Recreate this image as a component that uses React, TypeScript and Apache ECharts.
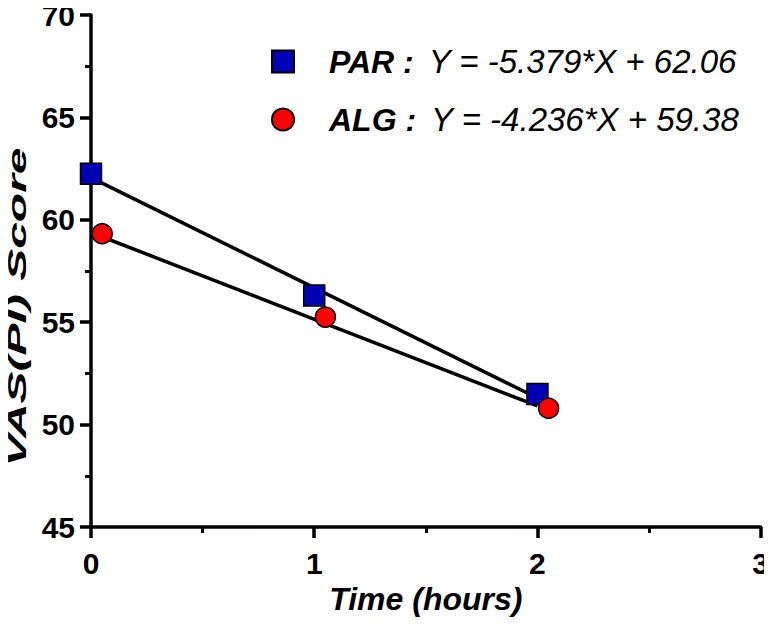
import React, { useEffect, useRef } from "react";
import * as echarts from "echarts";

const parTimes = [0, 1, 2];
const parScores = [62.25, 56.3, 51.5];
const algTimes = [0.05, 1.05, 2.05];
const algScores = [59.32, 55.25, 50.8];
const fitTimes = [0, 2];
const parFit = [62.06, 51.3];
const algFit = [59.38, 50.91];
const seriesNames = ["PAR", "ALG"];
const equations = ["Y = -5.379*X + 62.06", "Y = -4.236*X + 59.38"];
const xTicks = [0, 3, 1];
const yTicks = [45, 70, 5];

const FONT = "'Liberation Sans', Arial, sans-serif";

export default function App() {
  const ref = useRef<HTMLDivElement>(null);
  useEffect(() => {
    if (!ref.current) return;
    const chart = echarts.init(ref.current, null, { renderer: "svg" });
    const pair = (xs: number[], ys: number[]) => xs.map((x, i) => [x, ys[i]]);
    const tickLabel = {
      fontFamily: FONT,
      fontSize: 30,
      lineHeight: 24,
      fontWeight: "bold",
      color: "#000",
    };
    chart.setOption({
      animation: false,
      backgroundColor: "#ffffff",
      textStyle: { fontFamily: FONT },
      grid: { left: 91, right: 7, top: 12, bottom: 100, containLabel: false },
      legend: {
        orient: "vertical",
        left: 271,
        top: 45,
        padding: 0,
        itemWidth: 22,
        itemHeight: 22,
        itemGap: 25,
        data: seriesNames,
        formatter: (name: string) => {
          const i = seriesNames.indexOf(name);
          return `{b|${name} :}{n|${equations[i]}}`;
        },
        textStyle: {
          rich: {
            b: {
              fontFamily: FONT,
              fontSize: 32,
              fontWeight: "bold",
              fontStyle: "italic",
              color: "#000",
              padding: [0, 0, 0, 30],
              lineHeight: 36,
            },
            n: {
              fontFamily: FONT,
              fontSize: 33,
              fontStyle: "italic",
              color: "#000",
              padding: [0, 0, 0, 15],
              lineHeight: 36,
            },
          },
        },
      },
      xAxis: {
        type: "value",
        min: xTicks[0],
        max: xTicks[1],
        interval: xTicks[2],
        name: "Time (hours)",
        nameLocation: "middle",
        nameGap: 56,
        nameTextStyle: {
          fontFamily: FONT,
          fontSize: 32,
          fontWeight: "bold",
          fontStyle: "italic",
          color: "#000",
        },
        axisLine: { show: true, lineStyle: { color: "#000", width: 3.5 } },
        axisTick: { show: true, length: 11, lineStyle: { color: "#000", width: 3.5 } },
        minorTick: { show: true, splitNumber: 2, length: 6, lineStyle: { color: "#000", width: 3 } },
        splitLine: { show: false },
        axisLabel: { ...tickLabel, margin: 24 },
      },
      yAxis: {
        type: "value",
        min: yTicks[0],
        max: yTicks[1],
        interval: yTicks[2],
        axisLine: { show: true, lineStyle: { color: "#000", width: 3.5 } },
        axisTick: { show: true, length: 11, lineStyle: { color: "#000", width: 3.5 } },
        minorTick: { show: true, splitNumber: 2, length: 6, lineStyle: { color: "#000", width: 3 } },
        splitLine: { show: false },
        axisLabel: { ...tickLabel, margin: 16 },
      },
      graphic: [
        {
          type: "text",
          x: 17,
          y: 307,
          rotation: Math.PI / 2,
          scaleX: 1.92,
          style: {
            text: "VAS(PI) Score",
            font: `italic bold 25px ${FONT}`,
            fill: "#000",
            align: "center",
            verticalAlign: "middle",
          },
        },
      ],
      series: [
        {
          type: "line",
          data: pair(fitTimes, parFit),
          symbol: "none",
          lineStyle: { color: "#000", width: 3.5 },
          z: 1,
          silent: true,
        },
        {
          type: "line",
          data: pair(fitTimes, algFit),
          symbol: "none",
          lineStyle: { color: "#000", width: 3.5 },
          z: 1,
          silent: true,
        },
        {
          name: "PAR",
          type: "scatter",
          data: pair(parTimes, parScores),
          symbol: "rect",
          symbolSize: 21,
          itemStyle: { color: "#0000B4", borderColor: "#000", borderWidth: 1.5, opacity: 1 },
          z: 3,
        },
        {
          name: "ALG",
          type: "scatter",
          data: pair(algTimes, algScores),
          symbol: "circle",
          symbolSize: 20,
          itemStyle: { color: "#FF0000", borderColor: "#000", borderWidth: 1.5, opacity: 1 },
          z: 4,
        },
      ],
    });
    return () => chart.dispose();
  }, []);
  return <div ref={ref} style={{ width: 772, height: 627, margin: -8 }} />;
}
